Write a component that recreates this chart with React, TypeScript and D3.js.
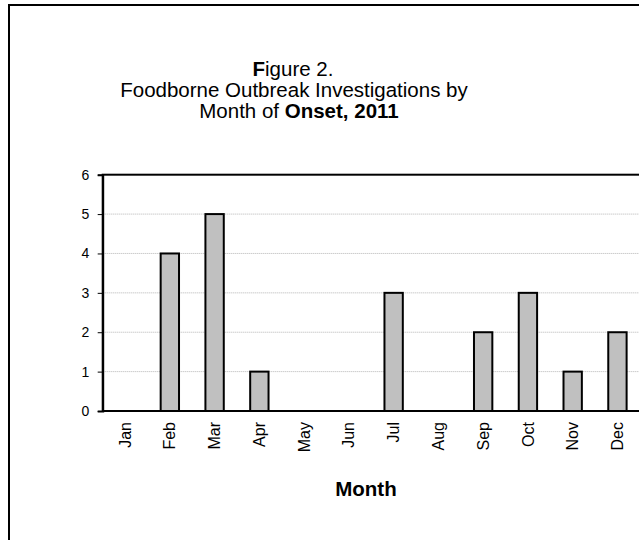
import { useRef, useEffect } from "react";
import * as d3 from "d3";

const months = ["Jan", "Feb", "Mar", "Apr", "May", "Jun", "Jul", "Aug", "Sep", "Oct", "Nov", "Dec"];
const outbreaks = [0, 4, 5, 1, 0, 0, 3, 0, 2, 3, 1, 2];
const yTicks = [0, 1, 2, 3, 4, 5, 6];
const titleLines = [
  [{ t: "F", bold: true }, { t: "igure 2.", bold: false }],
  [{ t: "Foodborne Outbreak Investigations by", bold: false }],
  [{ t: "Month of ", bold: false }, { t: "Onset, 2011", bold: true }],
];

const App = () => {
  const svgRef = useRef(null);

  useEffect(() => {
    const svg = d3.select(svgRef.current);
    svg.selectAll("*").remove();

    const width = 639;
    const height = 540;
    const font = "Liberation Sans, Arial, sans-serif";
    const left = 102.7;
    const top = 174.7;
    const bottom = 411;
    const step = 44.76;
    const right = left + step * months.length;

    // outer frame (runs off the right and bottom edge)
    svg
      .append("rect")
      .attr("x", 9)
      .attr("y", 5)
      .attr("width", 800)
      .attr("height", 700)
      .attr("fill", "white")
      .attr("stroke", "#000")
      .attr("stroke-width", 2);

    // title
    const title = svg
      .append("text")
      .attr("font-family", font)
      .attr("font-size", 20.5)
      .attr("text-anchor", "middle");
    const centers = [293, 294, 299];
    const baselines = [76, 97, 118];
    titleLines.forEach((line, i) => {
      const tl = title
        .append("tspan")
        .attr("x", centers[i])
        .attr("y", baselines[i]);
      line.forEach((part) => {
        tl.append("tspan")
          .attr("font-weight", part.bold ? "bold" : "normal")
          .text(part.t);
      });
    });

    const x = d3
      .scaleBand()
      .domain(months)
      .range([left, right])
      .paddingInner(0.59)
      .paddingOuter(0.295);

    const y = d3.scaleLinear().domain([0, 6]).range([bottom, top]);

    // gridlines
    svg
      .append("g")
      .selectAll("line")
      .data(yTicks.filter((d) => d > 0 && d < 6))
      .enter()
      .append("line")
      .attr("x1", left)
      .attr("x2", width)
      .attr("y1", (d) => y(d))
      .attr("y2", (d) => y(d))
      .attr("stroke", "#b4b4b4")
      .attr("stroke-width", 1)
      .attr("stroke-dasharray", "1,1");

    // plot area border, right side falls outside the picture
    svg
      .append("rect")
      .attr("x", left)
      .attr("y", y(6))
      .attr("width", right - left + 3)
      .attr("height", bottom - y(6))
      .attr("fill", "none")
      .attr("stroke", "#000")
      .attr("stroke-width", 2);

    // bars
    svg
      .append("g")
      .selectAll("rect")
      .data(months.map((m, i) => ({ m, v: outbreaks[i] })).filter((d) => d.v > 0))
      .enter()
      .append("rect")
      .attr("x", (d) => x(d.m))
      .attr("y", (d) => y(d.v))
      .attr("width", x.bandwidth())
      .attr("height", (d) => bottom - y(d.v))
      .attr("fill", "#c0c0c0")
      .attr("stroke", "#000")
      .attr("stroke-width", 2);

    // y axis
    const yAxis = svg
      .append("g")
      .attr("transform", `translate(${left},0)`)
      .call(
        d3
          .axisLeft(y)
          .tickValues(yTicks)
          .tickFormat(d3.format("d"))
          .tickSize(5)
          .tickPadding(8.5)
      );
    yAxis.select(".domain").attr("stroke", "#000").attr("stroke-width", 2);
    yAxis.selectAll(".tick line").attr("stroke", "#000");
    yAxis
      .selectAll(".tick text")
      .attr("font-family", font)
      .attr("font-size", 14)
      .attr("fill", "#000");

    // x axis labels
    const xAxis = svg
      .append("g")
      .attr("transform", `translate(0,${bottom})`)
      .call(d3.axisBottom(x).tickSize(0).tickPadding(0));
    xAxis.select(".domain").remove();
    xAxis
      .selectAll(".tick text")
      .attr("font-family", font)
      .attr("font-size", 16)
      .attr("fill", "#000")
      .attr("transform", "rotate(-90)")
      .attr("text-anchor", "end")
      .attr("x", -11)
      .attr("y", 0)
      .attr("dy", "0.35em");

    svg
      .append("text")
      .attr("x", 366)
      .attr("y", 496)
      .attr("text-anchor", "middle")
      .attr("font-family", font)
      .attr("font-size", 20.5)
      .attr("font-weight", "bold")
      .text("Month");

    svg.attr("width", width).attr("height", height);
  }, []);

  return <svg ref={svgRef} style={{ position: "absolute", left: 0, top: 0 }}></svg>;
};

export default App;
